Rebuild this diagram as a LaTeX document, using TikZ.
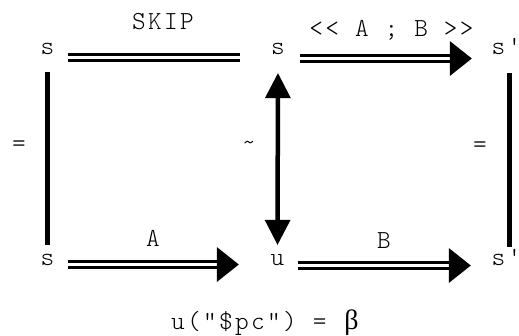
\documentclass[tikz,border=0pt]{standalone}
\usepackage{fontspec}
\usepackage{tikz}
\usetikzlibrary{arrows.meta}
\newfontfamily\codefont{Latin Modern Mono Light}[LetterSpace=9]
\newfontfamily\greekfont{Liberation Serif}

\begin{document}
\begin{tikzpicture}[x=1pt,y=-1pt,
  lbl/.style={font=\codefont\fontsize{26}{30}\selectfont,inner sep=0pt,anchor=base},
  state/.style={lbl,anchor=center,minimum width=40pt,text height=11pt,text depth=0pt},
  eqline/.style={double,double distance=3pt,line width=2.7pt},
  imp/.style={eqline,-{Triangle[length=22pt,width=35pt,line width=0pt]}},
  bar/.style={line width=4.5pt},
  twoway/.style={bar,{Triangle[length=25pt,width=26pt,line width=0pt]}-{Triangle[length=25pt,width=26pt,line width=0pt]}}]
  \useasboundingbox (0,0) rectangle (519,335);
  % corners of the square
  \node[state] (sTL) at (47.5,48.5) {s};
  \node[state] (sTM) at (278,48.5) {s};
  \node[state] (sTR) at (506.5,48.5) {s'};
  \node[state] (sBL) at (47.5,259.5) {s};
  \node[state] (uBM) at (277.5,259.5) {u};
  \node[state] (sBR) at (506.5,259.5) {s'};
  % horizontal steps
  \draw[eqline,shorten >=18pt] ([yshift=-9pt]sTL.east) -- ([yshift=-9pt]sTM.west);
  \draw[imp,shorten <=2pt,shorten >=14.5pt] ([yshift=-10pt]sTM.east) -- ([yshift=-10pt]sTR.west);
  \draw[imp,shorten >=18.5pt] ([yshift=-5pt]sBL.east) -- ([yshift=-5pt]uBM.west);
  \draw[imp,shorten >=15.5pt] ([yshift=-6pt]uBM.east) -- ([yshift=-6pt]sBR.west);
  % vertical links
  \draw[bar,shorten <=18pt,shorten >=9pt] (sTL.south) -- (sBL.north);
  \draw[twoway,shorten <=19pt,shorten >=9pt] (sTM.south) -- (uBM.north);
  \draw[bar,shorten <=19pt,shorten >=7pt] ([xshift=3pt]sTR.south) -- ([xshift=3pt]sBR.north);
  % labels
  \node[lbl] (skip) at (163,29) {SKIP};
  \node[lbl] (seq) at (391.5,36.5) {<< A ; B >>};
  \node[lbl] (stepA) at (153,246) {A};
  \node[lbl] (stepB) at (384,248) {B};
  \node[lbl] (eqL) at (19,151) {=};
  \node[lbl] (eqR) at (480,152.5) {=};
  \node[lbl] (sim) at (249,150.5) {\textasciitilde};
  \node[lbl,anchor=base west] (pc) at (171,329) {u("\$pc") = \hspace{2pt}{\greekfont\fontsize{28}{30}\selectfont β}};
\end{tikzpicture}
\end{document}
